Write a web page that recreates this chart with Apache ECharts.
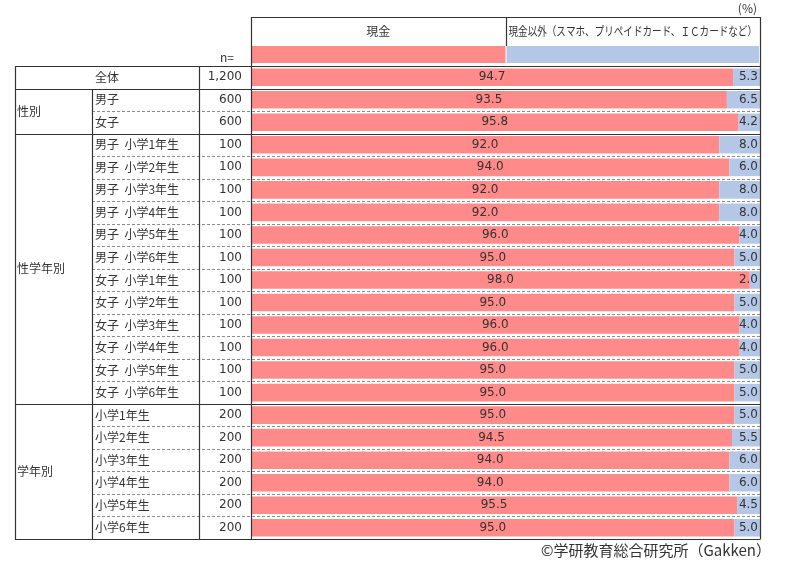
<!DOCTYPE html>
<html>
<head>
<meta charset="utf-8">
<script src="https://cdn.jsdelivr.net/npm/echarts@6/dist/echarts.min.js"></script>
<style>
html, body { margin: 0; padding: 0; background: #fff; }
#main { width: 791px; height: 569px; }
</style>
</head>
<body>
<div id="main"></div>
<script>
var FONT = '"Noto Sans CJK JP", "Noto Sans", sans-serif';
var NUMFONT = '"DejaVu Sans", sans-serif';
var TEXT = '#333333';

// 行ラベル
var rowLabels = ['全体', '男子', '女子',
  '男子  小学1年生', '男子  小学2年生', '男子  小学3年生', '男子  小学4年生', '男子  小学5年生', '男子  小学6年生',
  '女子  小学1年生', '女子  小学2年生', '女子  小学3年生', '女子  小学4年生', '女子  小学5年生', '女子  小学6年生',
  '小学1年生', '小学2年生', '小学3年生', '小学4年生', '小学5年生', '小学6年生'];
var nValues = ['1,200', '600', '600',
  '100', '100', '100', '100', '100', '100', '100', '100', '100', '100', '100', '100',
  '200', '200', '200', '200', '200', '200'];
var cash = [94.7, 93.5, 95.8, 92.0, 94.0, 92.0, 92.0, 96.0, 95.0, 98.0, 95.0, 96.0, 96.0, 95.0, 95.0, 95.0, 94.5, 94.0, 94.0, 95.5, 95.0];
var other = [5.3, 6.5, 4.2, 8.0, 6.0, 8.0, 8.0, 4.0, 5.0, 2.0, 5.0, 4.0, 4.0, 5.0, 5.0, 5.0, 5.5, 6.0, 6.0, 4.5, 5.0];
var seriesNames = ['現金', '現金以外（スマホ、プリペイドカード、ＩＣカードなど）'];
var colors = ['#FF8A8A', '#B4C7E7'];
// グループ: 名前, 開始行, 終了行
var groups = [['全体', 0, 0], ['性別', 1, 2], ['性学年別', 3, 14], ['学年別', 15, 20]];

var chart = echarts.init(document.getElementById('main'));

var option = {
  animation: false,
  textStyle: { fontFamily: FONT },
  grid: { left: 251, right: 31, top: 66, bottom: 30 },
  xAxis: { type: 'value', min: 0, max: 100, show: false },
  yAxis: [{
    type: 'category',
    data: rowLabels,
    inverse: true,
    axisLine: { show: false },
    axisTick: { show: false },
    splitLine: { show: false },
    axisLabel: {
      margin: 156,
      align: 'left',
      color: TEXT,
      fontSize: 12,
      fontFamily: FONT,
      formatter: function (v, i) { return i === 0 ? '' : v; }
    }
  }, {
    type: 'category',
    data: nValues,
    inverse: true,
    position: 'left',
    axisLine: { show: false },
    axisTick: { show: false },
    axisLabel: { margin: 9, align: 'right', color: TEXT, fontSize: 12, fontFamily: NUMFONT }
  }],
  series: [{
    name: seriesNames[0],
    type: 'bar',
    stack: 'a',
    data: cash,
    barCategoryGap: '22%',
    itemStyle: { color: colors[0] },
    label: {
      show: true, position: 'inside', color: TEXT, fontSize: 12, fontFamily: NUMFONT,
      formatter: function (p) { return p.value.toFixed(1); }
    }
  }, {
    name: seriesNames[1],
    type: 'bar',
    stack: 'a',
    data: other,
    itemStyle: { color: colors[1] },
    label: {
      show: true, position: 'insideRight', distance: 2, color: TEXT, fontSize: 12, fontFamily: NUMFONT,
      formatter: function (p) { return p.value.toFixed(1); }
    }
  }]
};
chart.setOption(option);

function textWidth(s, font) {
  var ctx = document.createElement('canvas').getContext('2d');
  ctx.font = font;
  return ctx.measureText(s).width;
}

// 表の罫線と見出し（軸の座標から計算）
function drawTable() {
  var p0 = chart.convertToPixel({ yAxisIndex: 0 }, 0);
  var p1 = chart.convertToPixel({ yAxisIndex: 0 }, 1);
  var band = p1 - p0;
  var top = p0 - band / 2;
  var x0 = chart.convertToPixel({ xAxisIndex: 0 }, 0);
  var xMid = chart.convertToPixel({ xAxisIndex: 0 }, 50);
  var x100 = chart.convertToPixel({ xAxisIndex: 0 }, 100);
  var colA = 15, colB = 92, colC = 199;
  var solid = { stroke: '#333', lineWidth: 1.2 };
  var dashed = { stroke: '#8c8c8c', lineWidth: 1, lineDash: [3, 2] };
  var els = [];
  function line(x1, y1, x2, y2, style) {
    els.push({ type: 'line', silent: true, z: 10, shape: { x1: x1, y1: y1, x2: x2, y2: y2 }, style: style });
  }
  function text(x, y, s, align, size, sx) {
    els.push({ type: 'text', silent: true, z: 11, x: x, y: y, scaleX: sx || 1,
      style: { text: s, fill: TEXT, font: (size || 12) + 'px ' + FONT, align: align || 'left', verticalAlign: 'middle' } });
  }
  function yAt(k) { return Math.round(top + band * k) + 0.5; }
  var nRows = rowLabels.length;

  // 行の区切り線
  var groupStarts = groups.map(function (g) { return g[1]; });
  for (var k = 1; k < nRows; k++) {
    if (groupStarts.indexOf(k) >= 0) line(colA, yAt(k), x100, yAt(k), solid);
    else line(colB, yAt(k), x100, yAt(k), dashed);
  }
  line(colA, yAt(0), x100, yAt(0), solid);
  line(colA, yAt(nRows), x100, yAt(nRows), solid);
  // 縦線
  line(colA + 0.5, yAt(0), colA + 0.5, yAt(nRows), solid);
  line(colB + 0.5, yAt(1), colB + 0.5, yAt(nRows), solid);
  line(colC + 0.5, yAt(0), colC + 0.5, yAt(nRows), solid);
  line(Math.round(x0) + 0.5, 17, Math.round(x0) + 0.5, yAt(nRows), solid);
  line(Math.round(x100) + 0.5, 17, Math.round(x100) + 0.5, yAt(nRows), solid);
  // 見出しの枠
  line(x0, 17.5, x100, 17.5, solid);
  line(Math.round(xMid) + 0.5, 17, Math.round(xMid) + 0.5, 46, solid);
  els.push({ type: 'rect', silent: true, shape: { x: x0 + 1, y: 46, width: xMid - x0 - 1, height: 17 }, style: { fill: colors[0] } });
  els.push({ type: 'rect', silent: true, shape: { x: xMid + 1, y: 46, width: x100 - xMid - 2, height: 17 }, style: { fill: colors[1] } });
  text((x0 + xMid) / 2, 31, seriesNames[0], 'center');
  var w = textWidth(seriesNames[1], '12px ' + FONT);
  var room = x100 - xMid - 6;
  text(xMid + 3, 31, seriesNames[1], 'left', 12, Math.min(1, room / w));
  text(234, 57, 'n=', 'right');
  text(757, 8, '(%)', 'right');

  // グループ名
  groups.forEach(function (g) {
    var yc = top + band * (g[1] + g[2] + 1) / 2;
    if (g[1] === g[2]) text((colA + colC) / 2, yc, rowLabels[g[1]], 'center');
    else text(colA + 2, yc, g[0], 'left');
  });

  text(771, 550, '©学研教育総合研究所（Gakken）', 'right', 15);

  chart.setOption({ graphic: { elements: els } });
}
drawTable();
</script>
</body>
</html>
